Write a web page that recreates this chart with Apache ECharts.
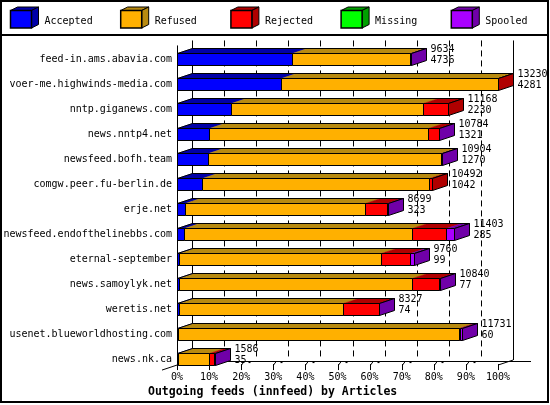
<!DOCTYPE html>
<html><head><meta charset="utf-8">
<script src="https://cdn.jsdelivr.net/npm/echarts@6/dist/echarts.min.js"></script>
<style>html,body{margin:0;padding:0;background:#fff}#c{width:550px;height:405px}</style>
</head><body><div id="c"></div>
<script>
const hosts = ['feed-in.ams.abavia.com','voer-me.highwinds-media.com','nntp.giganews.com','news.nntp4.net','newsfeed.bofh.team','comgw.peer.fu-berlin.de','erje.net','newsfeed.endofthelinebbs.com','eternal-september','news.samoylyk.net','weretis.net','usenet.blueworldhosting.com','news.nk.ca'];
const offered  = [9634,13230,11168,10784,10904,10492,8699,11403,9760,10840,8327,11731,1586];
const accepted = [4736,4281,2230,1321,1270,1042,323,285,99,77,74,60,35];
const refused  = [4878,8934,7928,9009,9604,9328,7410,9409,8293,9623,6753,11571,1271];
const rejected = [0,15,1010,452,0,122,936,1376,1230,1107,1483,50,234];
const missing  = [0,0,0,0,0,0,0,0,0,0,0,0,0];
const spooled  = [20,0,0,2,30,0,30,333,138,33,17,50,46];
const segmentNames = ['Accepted','Refused','Rejected','Missing','Spooled'];
const frontColors = ['#0000ff','#ffb000','#ff0000','#00ff00','#aa00ff'];
const darkColors  = ['#0000a8','#b88a10','#b00000','#00a000','#7000a8'];
const chartTitle = 'Outgoing feeds (innfeed) by Articles';

const FONT = '10px "DejaVu Sans Mono", monospace';
const DX = 15, DY = 5;
const maxOffered = Math.max(...offered);
const r = v => Math.round(v) + 0.5;

const chart = echarts.init(document.getElementById('c'), null, {renderer: 'canvas'});

function renderFrame(params, api) {
  const n = hosts.length;
  const band = api.size([0, 1])[1];
  const h = band * 0.47;
  const xL = api.coord([0, 0])[0];
  const xR = api.coord([maxOffered, 0])[0];
  const yTopF = api.coord([0, 0])[1] - band * 0.55;
  const yF = api.coord([0, n - 1])[1] + h / 2;
  const ch = [];
  const line = (x1, y1, x2, y2, extra) => ch.push({type: 'line', shape: {x1, y1, x2, y2},
    style: Object.assign({stroke: '#000', lineWidth: 1}, extra || {})});
  for (let k = 1; k < 10; k++) {
    const x = r(api.coord([maxOffered * k / 10, 0])[0] + DX);
    line(x, yTopF - DY, x, yF - DY, {lineDash: [6, 4]});
  }
  line(r(xL), yTopF, r(xL), yF);
  line(r(xL + DX), yTopF - DY, r(xL + DX), yF - DY);
  line(r(xR + DX), yTopF - DY, r(xR + DX), yF - DY);
  line(xL + DX, r(yF - 4), xR + DX + 18, r(yF - 4));
  line(xL - DX, yF + DY, xL, yF);
  line(xR, yF, xR + DX, yF - DY);
  for (let k = 0; k <= 10; k++) {
    const x = r(api.coord([maxOffered * k / 10, 0])[0]);
    line(x, yF - 1, x, yF + 5);
    if (k > 0 && k < 10) {
      line(x, yF, x + 3, yF - 4);
      ch.push({type: 'rect', shape: {x: x + 7, y: yF - 4, width: 2, height: 2}, style: {fill: '#000'}});
    }
  }
  return {type: 'group', children: ch};
}

function renderBar(params, api) {
  const idx = api.value(0);
  const segs = [api.value(1), api.value(2), api.value(3), api.value(4), api.value(5)];
  const band = api.size([0, 1])[1];
  const h = band * 0.47;
  const yc = api.coord([0, idx])[1];
  const yT = r(yc - h / 2), yB = r(yc + h / 2);
  const tops = [], fronts = [];
  let cum = 0, last = -1;
  const xStart = r(api.coord([0, idx])[0]);
  let xEnd = xStart;
  for (let s = 0; s < 5; s++) {
    if (segs[s] <= 0) continue;
    const x0 = r(api.coord([cum, idx])[0]);
    cum += segs[s];
    const x1 = r(api.coord([cum, idx])[0]);
    tops.push({type: 'polygon', shape: {points: [[x0, yT], [x1, yT], [x1 + DX, yT - DY], [x0 + DX, yT - DY]]},
      style: {fill: darkColors[s], stroke: darkColors[s], lineWidth: 0.5}});
    fronts.push({type: 'rect', shape: {x: x0, y: yT, width: x1 - x0, height: yB - yT},
      style: {fill: frontColors[s], stroke: '#000', lineWidth: 1}});
    last = s; xEnd = x1;
  }
  const ch = tops.slice();
  ch.push({type: 'polygon', shape: {points: [[xStart, yT], [xEnd, yT], [xEnd + DX, yT - DY], [xStart + DX, yT - DY]]},
    style: {fill: 'none', stroke: '#000', lineWidth: 1}});
  ch.push({type: 'polygon', shape: {points: [[xEnd, yT], [xEnd + DX, yT - DY], [xEnd + DX, yB - DY], [xEnd, yB]]},
    style: {fill: darkColors[last], stroke: '#000', lineWidth: 1}});
  fronts.forEach(f => ch.push(f));
  const tx = xEnd + DX + 4;
  ch.push({type: 'text', style: {text: String(api.value(6)), x: tx, y: yc - 9.5, fill: '#000', font: FONT, align: 'left', verticalAlign: 'middle'}});
  ch.push({type: 'text', style: {text: String(api.value(7)), x: tx, y: yc + 1.5, fill: '#000', font: FONT, align: 'left', verticalAlign: 'middle'}});
  return {type: 'group', children: ch};
}

const barData = hosts.map((hn, i) => [i, accepted[i], refused[i], rejected[i], missing[i], spooled[i], offered[i], accepted[i]]);

const legendGraphics = [];
segmentNames.forEach((name, i) => {
  const x0 = 10.5 + i * 110.2;
  legendGraphics.push({type: 'polygon', shape: {points: [[x0, 10.5], [x0 + 7, 7], [x0 + 28, 7], [x0 + 21, 10.5]]}, style: {fill: darkColors[i], stroke: '#000', lineWidth: 1}});
  legendGraphics.push({type: 'polygon', shape: {points: [[x0 + 21, 10.5], [x0 + 28, 7], [x0 + 28, 24.5], [x0 + 21, 28]]}, style: {fill: darkColors[i], stroke: '#000', lineWidth: 1}});
  legendGraphics.push({type: 'rect', shape: {x: x0, y: 10.5, width: 21, height: 17.5}, style: {fill: frontColors[i], stroke: '#000', lineWidth: 1.5}});
  legendGraphics.push({type: 'text', x: 44.5 + i * 110.2, y: 21, style: {text: name, fill: '#000', font: FONT, verticalAlign: 'middle'}});
});

chart.setOption({
  animation: false,
  backgroundColor: '#fff',
  title: {text: chartTitle, left: 148, top: 386, padding: 0,
    textStyle: {fontFamily: '"DejaVu Sans Mono", monospace', fontWeight: 'bold', fontSize: 11.5, color: '#000'}},
  grid: {left: 177, width: 321, top: 46.7, height: 325},
  xAxis: {type: 'value', min: 0, max: maxOffered, interval: maxOffered / 10,
    axisLine: {show: false}, axisTick: {show: false}, splitLine: {show: false},
    axisLabel: {margin: 1, color: '#000', fontFamily: '"DejaVu Sans Mono", monospace', fontSize: 10,
      formatter: v => Math.round(v / maxOffered * 100) + '%'}},
  yAxis: {type: 'category', data: hosts, inverse: true,
    axisLine: {show: false}, axisTick: {show: false}, splitLine: {show: false},
    axisLabel: {margin: 5, color: '#000', fontFamily: '"DejaVu Sans Mono", monospace', fontSize: 10}},
  graphic: [
    {type: 'rect', shape: {x: 1, y: 1, width: 547, height: 401}, style: {fill: 'none', stroke: '#000', lineWidth: 2}, z: 100},
    {type: 'line', shape: {x1: 1, y1: 35, x2: 548, y2: 35}, style: {stroke: '#000', lineWidth: 2}, z: 100},
    {type: 'group', children: legendGraphics, z: 100}
  ],
  series: [
    {type: 'custom', name: 'frame', silent: true, z: 1, renderItem: renderFrame, data: [[0, 0]], encode: {x: 0, y: 1}, clip: false},
    {type: 'custom', name: 'feeds', silent: true, z: 2, renderItem: renderBar, data: barData, encode: {x: 6, y: 0}, clip: false}
  ]
});
</script></body></html>
